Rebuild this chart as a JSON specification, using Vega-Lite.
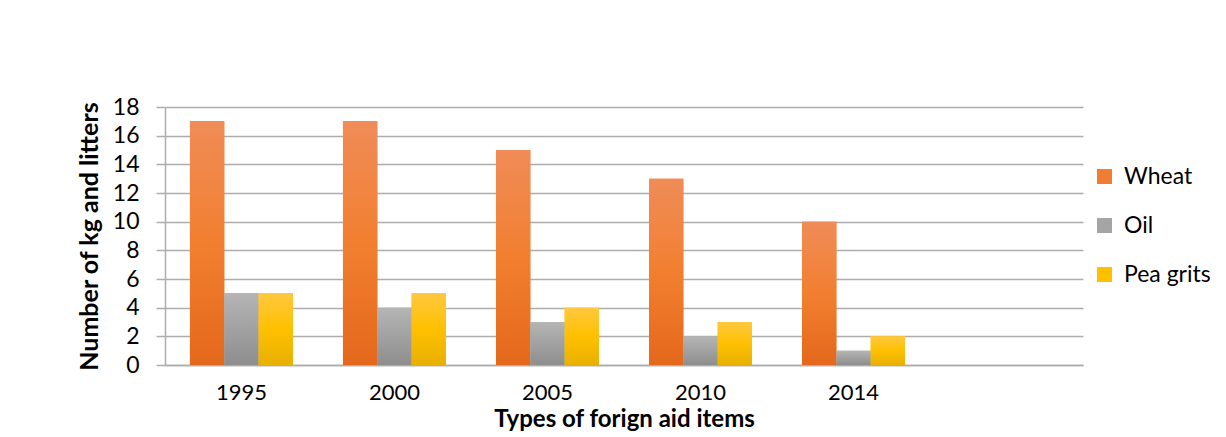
{
  "$schema": "https://vega.github.io/schema/vega-lite/v6.json",
  "width": 918,
  "height": 258,
  "autosize": {"type": "none"},
  "padding": {"left": 165, "top": 107, "right": 143, "bottom": 72},
  "background": "white",
  "config": {
    "font": "Lato",
    "view": {"stroke": null}
  },
  "data": {
    "values": [
      {"year": "1995", "item": "Wheat", "value": 17},
      {"year": "1995", "item": "Oil", "value": 5},
      {"year": "1995", "item": "Pea grits", "value": 5},
      {"year": "2000", "item": "Wheat", "value": 17},
      {"year": "2000", "item": "Oil", "value": 4},
      {"year": "2000", "item": "Pea grits", "value": 5},
      {"year": "2005", "item": "Wheat", "value": 15},
      {"year": "2005", "item": "Oil", "value": 3},
      {"year": "2005", "item": "Pea grits", "value": 4},
      {"year": "2010", "item": "Wheat", "value": 13},
      {"year": "2010", "item": "Oil", "value": 2},
      {"year": "2010", "item": "Pea grits", "value": 3},
      {"year": "2014", "item": "Wheat", "value": 10},
      {"year": "2014", "item": "Oil", "value": 1},
      {"year": "2014", "item": "Pea grits", "value": 2}
    ]
  },
  "encoding": {
    "x": {
      "field": "year",
      "type": "nominal",
      "scale": {"domain": ["1995", "2000", "2005", "2010", "2014", " "], "paddingInner": 0.327, "paddingOuter": 0.163},
      "axis": {
        "title": "Types of forign aid items",
        "titleFontSize": 24,
        "titleFontWeight": "bold",
        "titleColor": "#000000",
        "titlePadding": 4,
        "labelAngle": 0,
        "labelFontSize": 22,
        "labelColor": "#000000",
        "labelPadding": 17,
        "ticks": false,
        "domainColor": "#ADADAD",
        "domainWidth": 1.5,
        "grid": false
      }
    },
    "xOffset": {
      "field": "item",
      "type": "nominal",
      "sort": ["Wheat", "Oil", "Pea grits"],
      "scale": {"paddingInner": 0, "paddingOuter": 0}
    },
    "y": {
      "field": "value",
      "type": "quantitative",
      "scale": {"domain": [0, 18]},
      "axis": {
        "title": "Number of kg and litters",
        "titleFontSize": 25,
        "titleFontWeight": "bold",
        "titleColor": "#000000",
        "titlePadding": 10,
        "values": [0, 2, 4, 6, 8, 10, 12, 14, 16, 18],
        "labelFontSize": 23,
        "labelColor": "#000000",
        "labelPadding": 17,
        "tickSize": 9,
        "tickColor": "#ADADAD",
        "tickWidth": 1.5,
        "domainColor": "#ADADAD",
        "domainWidth": 1.5,
        "gridColor": "#ADADAD",
        "gridWidth": 1.5
      }
    }
  },
  "layer": [
    {
      "mark": {"type": "bar"},
      "encoding": {
        "color": {
          "field": "item",
          "type": "nominal",
          "sort": ["Wheat", "Oil", "Pea grits"],
          "scale": {
            "domain": ["Wheat", "Oil", "Pea grits"],
            "range": ["#F07D33", "#A5A5A5", "#FFC000"]
          },
          "legend": {
            "title": null,
            "orient": "none",
            "legendX": 928,
            "legendY": 58,
            "symbolType": "square",
            "symbolSize": 225,
            "symbolStrokeWidth": 0,
            "labelFontSize": 23,
            "labelColor": "#000000",
            "labelOffset": 8,
            "rowPadding": 25
          }
        }
      }
    },
    {
      "mark": {"type": "bar"},
      "encoding": {
        "fill": {
          "condition": [
            {"test": "datum.item === 'Wheat'", "value": {"gradient": "linear", "x1": 0, "y1": 0, "x2": 0, "y2": 1, "stops": [{"offset": 0, "color": "#F08C58"}, {"offset": 0.5, "color": "#F27F30"}, {"offset": 1, "color": "#E4681C"}]}},
            {"test": "datum.item === 'Oil'", "value": {"gradient": "linear", "x1": 0, "y1": 0, "x2": 0, "y2": 1, "stops": [{"offset": 0, "color": "#B5B5B5"}, {"offset": 1, "color": "#8E8E8E"}]}}
          ],
          "value": {"gradient": "linear", "x1": 0, "y1": 0, "x2": 0, "y2": 1, "stops": [{"offset": 0, "color": "#FFC83F"}, {"offset": 0.5, "color": "#FFC000"}, {"offset": 1, "color": "#E8B000"}]}
        }
      }
    }
  ]
}
